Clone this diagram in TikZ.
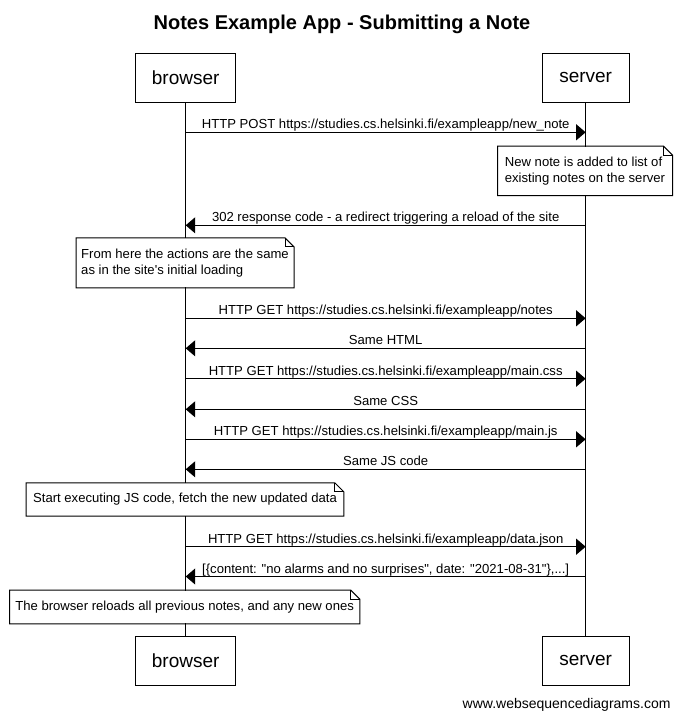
\documentclass[tikz,border=0pt]{standalone}
\usepackage{fontspec}
\setmainfont{Liberation Sans}
\usetikzlibrary{arrows.meta}
\begin{document}
\begin{tikzpicture}[x=1pt,y=-1pt,line width=1pt,
  actor/.style={draw,fill=white,inner sep=0pt,minimum height=49pt,font=\fontsize{19}{22}\selectfont},
  msg/.style={-{Triangle[length=9.5pt,width=16pt]}},
  lbl/.style={anchor=base,yshift=3.5pt,inner sep=0pt,font=\fontsize{13.1}{16}\selectfont},
  notebox/.style={fill=white,inner sep=0pt,align=left,font=\fontsize{13.1}{16}\selectfont},
  notepath/.style={draw,line width=1pt}]
\useasboundingbox (0,0) rectangle (681,720);

% title
\node[font=\bfseries\fontsize{20}{24}\selectfont,anchor=base] (title) at (342,29.3) {Notes Example App - Submitting a Note};

% actors
\node[actor,minimum width=100pt] (bt) at (185.7,77.8) {browser};
\node[actor,minimum width=86.7pt] (st) at (585.65,77.8) {server};
\node[actor,minimum width=100pt] (bb) at (185.7,660.85) {browser};
\node[actor,minimum width=86.7pt] (sb) at (585.65,660.85) {server};

% lifelines
\draw (bt.south) -- (bb.north);
\draw (st.south) -- (sb.north);

% message anchor points
\foreach \n/\y in {1/132.3,2/225.3,3/318.3,4/348.3,5/378.7,6/409.3,7/439.3,8/469.3,9/546.7,10/576.5}{
  \coordinate (b\n) at (185.7,\y);
  \coordinate (s\n) at (585.65,\y);
}

\draw[msg] (b1) -- node[lbl] {HTTP POST https://studies.cs.helsinki.fi/exampleapp/new\_note} (s1);
\draw[msg] (s2) -- node[lbl] {302 response code - a redirect triggering a reload of the site} (b2);
\draw[msg] (b3) -- node[lbl] {HTTP GET https://studies.cs.helsinki.fi/exampleapp/notes} (s3);
\draw[msg] (s4) -- node[lbl] {Same HTML} (b4);
\draw[msg] (b5) -- node[lbl] {HTTP GET https://studies.cs.helsinki.fi/exampleapp/main.css} (s5);
\draw[msg] (s6) -- node[lbl] {Same CSS} (b6);
\draw[msg] (b7) -- node[lbl] {HTTP GET https://studies.cs.helsinki.fi/exampleapp/main.js} (s7);
\draw[msg] (s8) -- node[lbl] {Same JS code} (b8);
\draw[msg] (b9) -- node[lbl] {HTTP GET https://studies.cs.helsinki.fi/exampleapp/data.json} (s9);
\draw[msg] (s10) -- node[lbl] {[\{content: \textquotedbl no alarms and no surprises\textquotedbl, date: \textquotedbl 2021-08-31\textquotedbl\},...]} (b10);

% notes
\node[notebox,minimum width=174pt,minimum height=48.3pt] (n1) at (585,170.85) {New note is added to list of\\existing notes on the server};
\node[notebox,minimum width=217pt,minimum height=49pt] (n2) at (185,262.8) {From here the actions are the same\\as in the site\textquotesingle s initial loading};
\node[notebox,minimum width=316.6pt,minimum height=32.4pt] (n3) at (185,499.5) {Start executing JS code, fetch the new updated data};
\node[notebox,minimum width=349.3pt,minimum height=32.6pt] (n4) at (184.65,607) {The browser reloads all previous notes, and any new ones};

\foreach \n in {n1,n2,n3,n4}{
  \draw[notepath] (\n.south west) -- (\n.north west) -- ([xshift=-9pt]\n.north east)
     -- ([yshift=-9pt]\n.north east) -- (\n.south east) -- cycle;
  \draw[notepath] ([xshift=-9pt]\n.north east) |- ([yshift=-9pt]\n.north east);
}

% watermark
\node[anchor=base east,inner sep=0pt,font=\fontsize{14}{16}\selectfont] (wm) at (671,708) {www.websequencediagrams.com};
\end{tikzpicture}
\end{document}
